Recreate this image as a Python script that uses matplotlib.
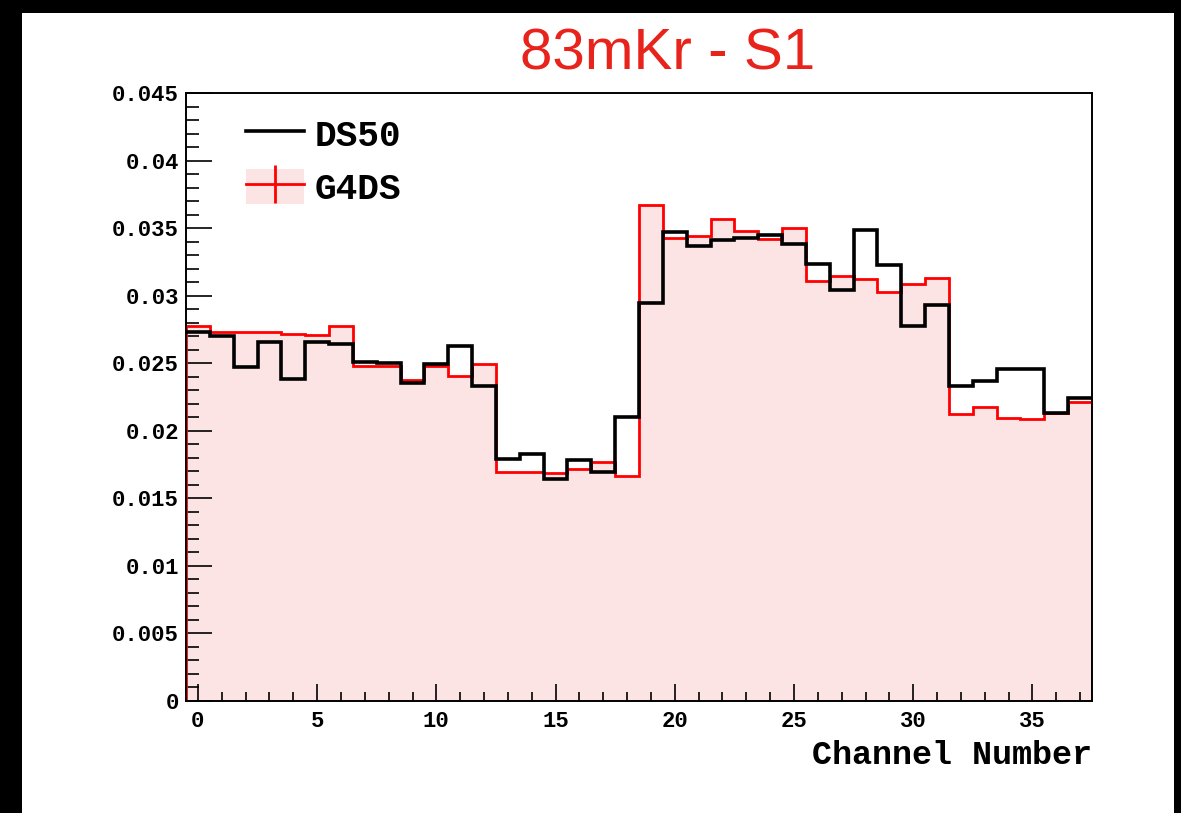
import numpy as np
import matplotlib
matplotlib.use("Agg")
import matplotlib.pyplot as plt
from matplotlib.patches import Rectangle, Patch
from matplotlib.lines import Line2D
from matplotlib.ticker import MultipleLocator, FuncFormatter

# channel-by-channel fractions
channels = np.arange(38)
ds50 = [0.02729, 0.02704, 0.02469, 0.02655, 0.02385, 0.02660, 0.02642, 0.02506,
        0.02501, 0.02353, 0.02491, 0.02630, 0.02335, 0.01793, 0.01828, 0.01644,
        0.01781, 0.01692, 0.02105, 0.02943, 0.03474, 0.03368, 0.03410, 0.03430,
        0.03450, 0.03386, 0.03232, 0.03041, 0.03487, 0.03224, 0.02774, 0.02929,
        0.02335, 0.02365, 0.02459, 0.02459, 0.02130, 0.02244]
g4ds = [0.02774, 0.02730, 0.02732, 0.02734, 0.02714, 0.02709, 0.02774, 0.02476,
        0.02476, 0.02377, 0.02476, 0.02407, 0.02491, 0.01692, 0.01692, 0.01684,
        0.01719, 0.01766, 0.01664, 0.03668, 0.03430, 0.03442, 0.03570, 0.03479,
        0.03418, 0.03504, 0.03108, 0.03145, 0.03120, 0.03029, 0.03088, 0.03130,
        0.02125, 0.02174, 0.02093, 0.02088, 0.02130, 0.02216]
labels = ["DS50", "G4DS"]

mono = ["Liberation Mono", "DejaVu Sans Mono"]
pink = "#fde4e4"

fig = plt.figure(figsize=(11.81, 8.13), dpi=100, facecolor="black")
# white page inside the black border
fig.add_artist(Rectangle((22 / 1181, 0), (1174 - 22) / 1181, 1 - 13 / 813,
                         transform=fig.transFigure, facecolor="white",
                         edgecolor="none", zorder=-10))

ax = fig.add_axes([186 / 1181, 112 / 813, (1092 - 186) / 1181, 608 / 813])
edges = np.append(channels - 0.5, channels[-1] + 0.5)

ax.stairs(g4ds, edges, fill=True, color=pink, zorder=1)
ax.stairs(g4ds, edges, color="red", lw=2.0, zorder=2)
ax.stairs(ds50, edges, color="black", lw=2.6, baseline=None, zorder=3)

ax.set_xlim(-0.5, 37.5)
ax.set_ylim(0, 0.045)

ax.xaxis.set_major_locator(MultipleLocator(5))
ax.xaxis.set_minor_locator(MultipleLocator(1))
ax.yaxis.set_major_locator(MultipleLocator(0.005))
ax.yaxis.set_minor_locator(MultipleLocator(0.001))
ax.yaxis.set_major_formatter(FuncFormatter(lambda v, p: "%g" % round(v, 4)))

ax.tick_params(axis="x", which="major", direction="in", length=12.5, width=1.2, pad=7)
ax.tick_params(axis="x", which="minor", direction="in", length=6.5, width=1.2)
ax.tick_params(axis="y", which="major", direction="in", length=19, width=1.2, pad=5)
ax.tick_params(axis="y", which="minor", direction="in", length=9.5, width=1.2)
for lab in ax.get_xticklabels() + ax.get_yticklabels():
    lab.set_family(mono)
    lab.set_fontweight("bold")
    lab.set_fontsize(16)

for s in ax.spines.values():
    s.set_linewidth(1.4)
    s.set_zorder(5)

ax.set_xlabel("Channel Number", family=mono, fontweight="bold", fontsize=24)
ax.xaxis.set_label_coords(1.0, -0.09)
ax.xaxis.label.set_ha("right")
ax.xaxis.label.set_va("center")

# legend: G4DS entry is a filled box with a red cross on top
h_ds = Line2D([], [], color="black", lw=2.6)
h_g4 = (Patch(facecolor=pink, edgecolor="none"),
        Line2D([], [], color="red", lw=2.0, marker="|", markersize=28, markeredgewidth=2.0))
ax.legend([h_ds, h_g4], labels,
          loc="upper left", bbox_to_anchor=(0.05, 0.985), frameon=False,
          prop={"family": mono, "weight": "bold", "size": 26},
          handlelength=1.6, handleheight=1.1, handletextpad=0.3, labelspacing=0.42,
          borderaxespad=0)

fig.text(668 / 1181, 1 - 55 / 813, "83mKr - S1", color="#e8231b", fontsize=42,
         family=["Liberation Sans Narrow", "Liberation Sans", "DejaVu Sans"],
         ha="center", va="center")

fig.savefig("out.png", dpi=100, facecolor="black")
